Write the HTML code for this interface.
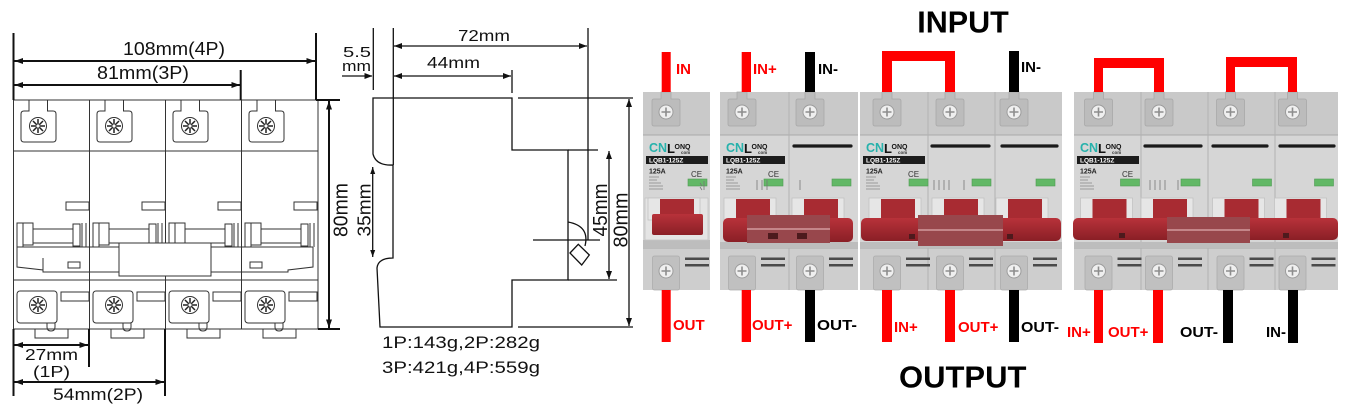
<!DOCTYPE html>
<html>
<head>
<meta charset="utf-8">
<style>
html,body{margin:0;padding:0;background:#fff;}
svg{display:block;}
</style>
</head>
<body>
<svg width="1350" height="409" viewBox="0 0 1350 409" xmlns="http://www.w3.org/2000/svg" font-family="'Liberation Sans', Arial, sans-serif">
<defs>
  <linearGradient id="rb" x1="0" y1="0" x2="0" y2="1">
    <stop offset="0" stop-color="#b8323a"/>
    <stop offset="1" stop-color="#8a1f26"/>
  </linearGradient>
  <!-- drawing pole -->
  <g id="dp" fill="none" stroke="#333" stroke-width="1">
    <path d="M15.5 100 V111 H10.5 Q7.5 111 7.5 114 V139 Q7.5 142 10.5 142 H39.5 Q42.5 142 42.5 139 V114 Q42.5 111 39.5 111 H34 V100"/>
    <circle cx="24.5" cy="126" r="8.5"/>
    <path d="M24.5 119 V133 M17.5 126 H31.5 M19.5 121 L29.5 131 M29.5 121 L19.5 131" stroke-width="1.5" stroke="#222"/>
    <circle cx="24.5" cy="126" r="1.6" fill="#fff" stroke="none"/>
    <rect x="52.5" y="202" width="23" height="8"/>
    <rect x="3.5" y="223" width="6" height="24"/>
    <rect x="9.5" y="223" width="10" height="22"/>
    <rect x="19.5" y="229" width="40" height="14"/>
    <rect x="59.5" y="224" width="7" height="22"/>
    <path d="M68.5 223 V247 M72.5 223 V247"/>
    <rect x="3.5" y="291" width="40" height="32" rx="3"/>
    <path d="M33.5 323 V327 Q33.5 331 37.5 331 Q41.5 331 41.5 327 V323"/>
    <path d="M21.5 329 V338 H54.5 V329"/>
    <circle cx="24.5" cy="305" r="8.5"/>
    <path d="M24.5 298 V312 M17.5 305 H31.5 M19.5 300 L29.5 310 M29.5 300 L19.5 310" stroke-width="1.5" stroke="#222"/>
    <circle cx="24.5" cy="305" r="1.6" fill="#fff" stroke="none"/>
    <rect x="47.5" y="292" width="28" height="9"/>
  </g>
  <!-- product pole (local x = terminal center) -->
  <g id="pp">
    <path d="M-5 92 H5 V99 H12 Q14 99 14 101 V124 Q14 126 12 126 H-12 Q-14 126 -14 124 V101 Q-14 99 -12 99 H-5 Z" fill="#bcbcbc" stroke="#a8a8a8" stroke-width="0.8"/>
    <circle cx="0" cy="112" r="7" fill="#efefef" stroke="#9c9c9c" stroke-width="1"/>
    <path d="M-4.5 112 H4.5 M0 107.5 V116.5" stroke="#8d8d8d" stroke-width="1.6"/>
    <rect x="22" y="179" width="19" height="7" fill="#62b866" stroke="#4f9a54" stroke-width="0.6"/>
    <rect x="-18" y="198" width="52" height="22" fill="#e6e6e6" stroke="#c2c2c2" stroke-width="0.8"/>
    <rect x="-6" y="199" width="34" height="21" fill="#a82b32"/>
    <rect x="-13.5" y="256" width="27" height="34" rx="2" fill="#c0c0c0" stroke="#acacac" stroke-width="0.8"/>
    <circle cx="0" cy="271" r="7" fill="#efefef" stroke="#9c9c9c" stroke-width="1"/>
    <path d="M-4.5 271 H4.5 M0 266.5 V275.5" stroke="#8d8d8d" stroke-width="1.6"/>
    <rect x="19" y="257.5" width="24" height="2.5" fill="#4a4a4a"/>
    <rect x="19" y="264" width="24" height="2.5" fill="#4a4a4a"/>
  </g>
  <!-- label (local x = body left) -->
  <g id="lbl" font-weight="bold">
    <text x="6" y="152" font-size="12.5" fill="#27b2ac">CN</text>
    <text x="24" y="153" font-size="13" fill="#111">L</text>
    <text x="31.5" y="149" font-size="7" fill="#111">ONQ</text>
    <text x="38" y="154" font-size="4.5" fill="#333">com</text>
    <rect x="3" y="156" width="62" height="8" fill="#1c1c1c"/>
    <text x="6" y="162.5" font-size="6.5" fill="#fff">LQB1-125Z</text>
    <text x="6" y="173.5" font-size="7" fill="#222">125A</text>
    <rect x="6" y="176.5" width="10" height="1" fill="#9a9a9a"/>
    <rect x="6" y="179.5" width="8" height="1" fill="#9a9a9a"/>
    <rect x="6" y="182.5" width="12" height="1" fill="#9a9a9a"/>
    <rect x="6" y="185.5" width="14" height="1" fill="#9a9a9a"/>
    <rect x="6" y="188.5" width="14" height="1" fill="#9a9a9a"/>
    <text x="48" y="177" font-size="8" fill="#333" font-weight="normal">CE</text>
  </g>
</defs>

<rect width="1350" height="409" fill="#fff"/>

<!-- ================= LEFT DRAWING ================= -->
<rect x="13.5" y="100" width="304.5" height="229" fill="none" stroke="#333" stroke-width="1"/>
<path d="M13.5 151 H318 M13.5 280 H318 M89.5 100 V329 M165.5 100 V329 M241.5 100 V329" fill="none" stroke="#333" stroke-width="1"/>
<use href="#dp" x="13.5"/>
<use href="#dp" x="89.5"/>
<use href="#dp" x="165.5"/>
<use href="#dp" x="241.5"/>
<!-- base strip -->
<g fill="none" stroke="#333" stroke-width="1">
  <path d="M17 247 H313"/>
  <polyline points="17,247 17,267 43,270 43,272 119,272"/>
  <polyline points="211,272 288,272 288,270 313,267 313,247"/>
  <path d="M43 258 V272"/>
  <rect x="68" y="262" width="12" height="6"/>
  <rect x="250" y="262" width="12" height="6"/>
  <rect x="119" y="243" width="92" height="33" fill="#fff"/>
</g>
<!-- dimension lines left -->
<g stroke="#111" stroke-width="2" fill="none">
  <path d="M13.5 33 V100 M13.5 329 V396 M316 33 V100 M316 100 H340 M318 329 H340 M240.7 70 V100 M89 329 V367 M165 329 V396"/>
  <path d="M14.5 61 H315 M14.5 85 H240 M329 101 V328 M14.5 345 H88 M14.5 382 H164"/>
</g>
<g fill="#111">
  <polygon points="14.5,61 23,58 23,64"/><polygon points="315,61 306.5,58 306.5,64"/>
  <polygon points="14.5,85 23,82 23,88"/><polygon points="240,85 231.5,82 231.5,88"/>
  <polygon points="329,101 326,109.5 332,109.5"/><polygon points="329,328 326,319.5 332,319.5"/>
  <polygon points="14.5,345 23,342 23,348"/><polygon points="88,345 79.5,342 79.5,348"/>
  <polygon points="14.5,382 23,379 23,385"/><polygon points="164,382 155.5,379 155.5,385"/>
</g>
<g fill="#111">
  <text x="123" y="55" font-size="18.5" textLength="102" lengthAdjust="spacingAndGlyphs">108mm(4P)</text>
  <text x="97" y="79" font-size="18.5" textLength="92" lengthAdjust="spacingAndGlyphs">81mm(3P)</text>
  <text transform="translate(347.5,210) rotate(-90)" text-anchor="middle" font-size="20" textLength="54" lengthAdjust="spacingAndGlyphs">80mm</text>
  <text x="25" y="360" font-size="16" textLength="53" lengthAdjust="spacingAndGlyphs">27mm</text>
  <text x="33" y="377" font-size="16" textLength="37" lengthAdjust="spacingAndGlyphs">(1P)</text>
  <text x="53" y="400" font-size="16.5" textLength="90" lengthAdjust="spacingAndGlyphs">54mm(2P)</text>
</g>

<!-- ================= SIDE VIEW ================= -->
<g fill="none" stroke="#111" stroke-width="1.3">
  <path d="M373 98 H512 V150 H568 V280 H512 V327 H380 L377 268 Q378 258 393 258 V165 Q376 166 373 154 Z"/>
  <path d="M373.3 28 V90 M393.3 28 V165 M588 28 V240 M512 70 V93"/>
  <path d="M394 46 H587 M394 76 H511 M342 76 H372"/>
  <path d="M518 98 H633 M518 327 H633 M568 150 H598 M568 280 H617"/>
  <path d="M609 151 V279 M629 99 V326 M372.7 167 V257"/>
  <path d="M533 240 H600"/>
  <path d="M568 222 Q590 226 585 246"/>
  <polygon points="570,253 578.3,244.3 589.3,255 581.7,265"/>
</g>
<g fill="#111">
  <polygon points="394,46 402,43 402,49"/><polygon points="587,46 579,43 579,49"/>
  <polygon points="394,76 402,73 402,79"/><polygon points="511,76 503,73 503,79"/>
  <polygon points="372.5,76 364.5,73 364.5,79"/>
  <polygon points="609,151 606,159 612,159"/><polygon points="609,279 606,271 612,271"/>
  <polygon points="629,99 626,107 632,107"/><polygon points="629,326 626,318 632,318"/>
  <polygon points="372.7,167 370.2,174 375.2,174"/><polygon points="372.7,257 370.2,250 375.2,250"/>
</g>
<g fill="#111">
  <text x="458" y="41" font-size="15.5" textLength="52" lengthAdjust="spacingAndGlyphs">72mm</text>
  <text x="427" y="68" font-size="15.5" textLength="53" lengthAdjust="spacingAndGlyphs">44mm</text>
  <text x="343" y="57" font-size="14.5" textLength="28" lengthAdjust="spacingAndGlyphs">5.5</text>
  <text x="342" y="71" font-size="14.5" textLength="29" lengthAdjust="spacingAndGlyphs">mm</text>
  <text transform="translate(370.5,210) rotate(-90)" text-anchor="middle" font-size="18.5" textLength="53" lengthAdjust="spacingAndGlyphs">35mm</text>
  <text transform="translate(607,210) rotate(-90)" text-anchor="middle" font-size="20" textLength="53" lengthAdjust="spacingAndGlyphs">45mm</text>
  <text transform="translate(627.5,220) rotate(-90)" text-anchor="middle" font-size="20" textLength="55" lengthAdjust="spacingAndGlyphs">80mm</text>
  <text x="382" y="348" font-size="16.5" textLength="158" lengthAdjust="spacingAndGlyphs">1P:143g,2P:282g</text>
  <text x="382" y="373" font-size="16.5" textLength="158" lengthAdjust="spacingAndGlyphs">3P:421g,4P:559g</text>
</g>

<!-- ================= PRODUCTS ================= -->
<!-- bodies -->
<g>
  <!-- 1P -->
  <rect x="643" y="92" width="67" height="43" fill="#c9c9c9"/>
  <rect x="643" y="135" width="67" height="113" fill="#d6d6d6"/>
  <rect x="643" y="248" width="67" height="42" fill="#cecece"/>
  <!-- 2P -->
  <rect x="720" y="92" width="138" height="43" fill="#c9c9c9"/>
  <rect x="720" y="135" width="138" height="113" fill="#d6d6d6"/>
  <rect x="720" y="248" width="138" height="42" fill="#cecece"/>
  <!-- 3P -->
  <rect x="860" y="92" width="202" height="43" fill="#c9c9c9"/>
  <rect x="860" y="135" width="202" height="113" fill="#d6d6d6"/>
  <rect x="860" y="248" width="202" height="42" fill="#cecece"/>
  <!-- 4P -->
  <rect x="1074" y="92" width="264" height="43" fill="#c9c9c9"/>
  <rect x="1074" y="135" width="264" height="113" fill="#d6d6d6"/>
  <rect x="1074" y="248" width="264" height="42" fill="#cecece"/>
</g>
<g stroke="#a9a9a9" stroke-width="1" fill="none">
  <path d="M643 135 H710 M720 135 H858 M860 135 H1062 M1074 135 H1338"/>
  <path d="M643 248 H710 M720 248 H858 M860 248 H1062 M1074 248 H1338"/>
  <path d="M789 92 V290 M928 92 V290 M995 92 V290 M1141 92 V290 M1208 92 V290 M1275 92 V290" stroke="#b3b3b3"/>
</g>
<!-- shelves under bars -->
<rect x="643" y="240" width="67" height="8" fill="#bdbdbd"/>
<rect x="720" y="242" width="138" height="6" fill="#bdbdbd"/>
<rect x="860" y="242" width="202" height="6" fill="#bdbdbd"/>
<rect x="1074" y="242" width="264" height="6" fill="#bdbdbd"/>
<!-- 1P housing -->
<rect x="645" y="198" width="63" height="42" fill="#e4e4e4" stroke="#c4c4c4" stroke-width="0.8"/>

<!-- poles -->
<use href="#pp" x="666"/>
<use href="#pp" x="742"/>
<use href="#pp" x="810"/>
<use href="#pp" x="887"/>
<use href="#pp" x="950"/>
<use href="#pp" x="1014"/>
<use href="#pp" x="1098.5"/>
<use href="#pp" x="1159"/>
<use href="#pp" x="1230.5"/>
<use href="#pp" x="1292.5"/>

<!-- labels -->
<use href="#lbl" x="643"/>
<use href="#lbl" x="720"/>
<use href="#lbl" x="860"/>
<use href="#lbl" x="1074"/>

<!-- black lines on non-label poles -->
<g stroke="#1a1a1a" stroke-width="3.2" stroke-linecap="round">
  <path d="M794 146 H851 M932 146 H989 M1002 146 H1057 M1145 146 H1201 M1213 146 H1267 M1280 146 H1334"/>
</g>
<!-- small circuit symbols -->
<g stroke="#777" stroke-width="0.8" fill="none">
  <path d="M704 181 V190 M700 183 l2 3 M700 187 l2 3"/>
  <path d="M757 180 V190 M762 180 V190 M767 180 V190 M800 180 V190"/>
  <path d="M934 180 V190 M939 180 V190 M944 180 V190 M949 180 V190 M964 180 V190"/>
  <path d="M1150 180 V190 M1155 180 V190 M1160 180 V190 M1165 180 V190 M1178 180 V190"/>
</g>

<!-- 1P handle lower -->
<rect x="652" y="214" width="51" height="21" rx="2" fill="url(#rb)"/>
<!-- 2P bar -->
<rect x="723" y="218" width="130" height="24" rx="5" fill="url(#rb)"/>
<rect x="747" y="215" width="83" height="28" fill="#98474c"/>
<path d="M747 229 H830" stroke="#d39a9d" stroke-width="1.5"/>
<rect x="768" y="233" width="10" height="6" fill="#4d1a1d"/>
<rect x="797" y="233" width="10" height="6" fill="#4d1a1d"/>
<!-- 3P bar -->
<rect x="861" y="218" width="200" height="23" rx="5" fill="url(#rb)"/>
<rect x="918" y="215" width="85" height="31" fill="#98474c"/>
<path d="M918 230 H1003" stroke="#d39a9d" stroke-width="1.5"/>
<rect x="909" y="234" width="6" height="5" fill="#4d1a1d"/>
<rect x="1007" y="234" width="6" height="5" fill="#4d1a1d"/>
<!-- 4P bar -->
<rect x="1073" y="218" width="265" height="22" rx="5" fill="url(#rb)"/>
<rect x="1167" y="217" width="83" height="26" fill="#98474c"/>
<path d="M1167 230 H1250" stroke="#d39a9d" stroke-width="1.5"/>
<rect x="1119" y="233" width="6" height="5" fill="#4d1a1d"/>
<rect x="1283" y="233" width="6" height="5" fill="#4d1a1d"/>

<!-- wires -->
<g fill="#ff0000">
  <rect x="661.7" y="52" width="9" height="40"/>
  <rect x="661.7" y="290" width="9" height="52"/>
  <rect x="741.7" y="52" width="9.3" height="40"/>
  <rect x="741.7" y="290" width="9.3" height="52"/>
  <path d="M882 51 H955 V92 H945 V61 H892 V92 H882 Z"/>
  <rect x="882" y="290" width="10" height="52"/>
  <rect x="945" y="290" width="10" height="52"/>
  <path d="M1094 58 H1164 V92 H1154 V68 H1103 V92 H1094 Z"/>
  <path d="M1226 57 H1297 V92 H1288 V67 H1235 V92 H1226 Z"/>
  <rect x="1094" y="290" width="9" height="53"/>
  <rect x="1153" y="290" width="10" height="53"/>
</g>
<g fill="#000">
  <rect x="805" y="52" width="10" height="40"/>
  <rect x="805" y="290" width="10" height="52"/>
  <rect x="1009" y="51" width="10" height="41"/>
  <rect x="1009" y="290" width="10" height="52"/>
  <rect x="1223" y="290" width="10" height="53"/>
  <rect x="1288" y="290" width="10" height="53"/>
</g>

<!-- product texts -->
<g font-weight="bold" font-size="15">
  <text x="676" y="74" fill="#ff0000">IN</text>
  <text x="753" y="74" fill="#ff0000">IN+</text>
  <text x="818" y="74" fill="#000">IN-</text>
  <text x="673" y="330" fill="#ff0000">OUT</text>
  <text x="752" y="330" fill="#ff0000">OUT+</text>
  <text x="817" y="330" fill="#000" textLength="40" lengthAdjust="spacingAndGlyphs">OUT-</text>
  <text x="1021" y="72" fill="#000">IN-</text>
  <text x="894" y="332" fill="#ff0000">IN+</text>
  <text x="958" y="332" fill="#ff0000">OUT+</text>
  <text x="1021" y="332" fill="#000" textLength="38" lengthAdjust="spacingAndGlyphs">OUT-</text>
  <text x="1067" y="337" fill="#ff0000">IN+</text>
  <text x="1108" y="337" fill="#ff0000">OUT+</text>
  <text x="1180" y="337" fill="#000" textLength="38" lengthAdjust="spacingAndGlyphs">OUT-</text>
  <text x="1266" y="337" fill="#000">IN-</text>
</g>
<text x="963" y="32.3" text-anchor="middle" font-size="30.5" font-weight="bold" fill="#000">INPUT</text>
<text x="962.7" y="387.7" text-anchor="middle" font-size="31" font-weight="bold" fill="#000">OUTPUT</text>
</svg>
</body>
</html>
